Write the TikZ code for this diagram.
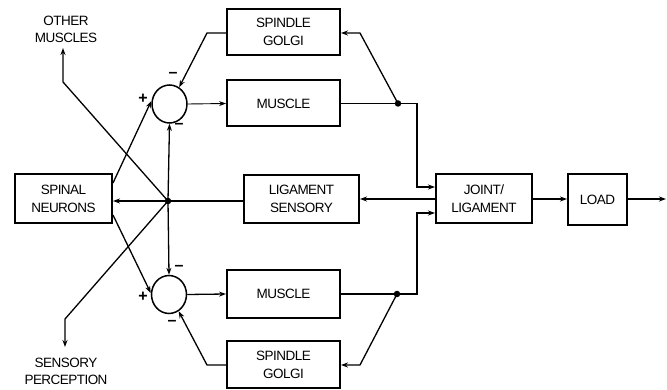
\documentclass[tikz,border=0pt]{standalone}
\usepackage{fontspec}
\setmainfont{Liberation Sans}[LetterSpace=-4]
\usetikzlibrary{arrows.meta,shapes.geometric}
\begin{document}
\begin{tikzpicture}[x=1pt,y=-1pt,
  blk/.style={draw,line width=2pt,inner sep=0pt,align=center,font=\fontsize{13.5}{18}\selectfont},
  lbl/.style={align=center,font=\fontsize{13.5}{17}\selectfont,inner sep=0pt},
  sum/.style={draw,line width=1.5pt,ellipse,minimum width=35pt,minimum height=38pt,inner sep=0pt},
  con/.style={line width=1.3pt,-{Stealth[length=7pt,width=5pt]}},
  ln/.style={line width=1.3pt},
  sg/.style={font=\fontsize{16}{16}\selectfont\bfseries,inner sep=0pt},
  dot/.style={circle,fill,inner sep=0pt,minimum size=6.5pt}]
\useasboundingbox (0,0) rectangle (667,390);
% blocks
\node[blk,minimum width=113pt,minimum height=46pt] (sgt) at (283.5,32) {SPINDLE\\GOLGI};
\node[blk,minimum width=113pt,minimum height=46pt] (mt) at (283.5,103.5) {MUSCLE};
\node[blk,minimum width=97pt,minimum height=49pt] (sn) at (63.5,198.5) {SPINAL\\NEURONS};
\node[blk,minimum width=115pt,minimum height=48pt] (ls) at (301.5,199) {LIGAMENT\\SENSORY};
\node[blk,minimum width=96pt,minimum height=49pt] (jl) at (484,198.5) {JOINT/\\LIGAMENT};
\node[blk,minimum width=59pt,minimum height=51pt] (ld) at (597.5,199.5) {LOAD};
\node[blk,minimum width=113pt,minimum height=48pt] (mb) at (283.5,294) {MUSCLE};
\node[blk,minimum width=113pt,minimum height=47pt] (sgb) at (283.5,364.5) {SPINDLE\\GOLGI};
% summing junctions
\node[sum] (ct) at (169.5,104) {};
\node[sum] (cb) at (169,294.5) {};
% dots
\node[dot] (d0) at (168,201) {};
\node[dot] (dt) at (398,103.5) {};
\node[dot] (db) at (397,294) {};
% labels
\node[lbl] (om) at (66,29) {OTHER\\MUSCLES};
\node[lbl] (sp) at (66,371) {SENSORY\\PERCEPTION};
\coordinate (omA) at (63,48);
\coordinate (spA) at (65,347);
\coordinate (out) at (666,199);
% connectors top
\draw[con] (sgt.west |- 0,33) -- (207,33) -- (ct.60);
\draw[con,line width=0.9pt] (ct.east) -- (mt.west);
\draw[ln] (mt.east) -- (dt.center);
\draw[con] (dt.center) -- (417,103.5) -- (417,187) -- (jl.west |- 0,187);
\draw[con] (dt.center) -- (360,33) -- (sgt.east |- 0,33);
% centre
\draw[con] (jl.west |- 0,199) -- (ls.east |- 0,199);
\draw[ln] (ls.west |- 0,201) -- (d0.center);
\draw[con] (d0.center) -- (sn.east |- 0,201);
\draw[con] (d0.center) -- (ct.south);
\draw[con] (d0.center) -- (cb.north);
\draw[con] (sn.east |- 0,183) -- (ct.west |- 0,101);
\draw[con] (sn.east |- 0,215) -- (cb.west |- 0,293);
\draw[con] (d0.center) -- (63,82) -- (omA);
\draw[con] (d0.center) -- (65,319) -- (spA);
% bottom
\draw[con] (cb.east) -- (mb.west);
\draw[ln] (mb.east) -- (db.center);
\draw[con] (db.center) -- (417,294) -- (417,213) -- (jl.west |- 0,213);
\draw[con] (db.center) -- (360,365) -- (sgb.east |- 0,365);
\draw[con] (sgb.west |- 0,365) -- (207,365) -- (cb.-60);
% load
\draw[con] (jl.east |- 0,199) -- (ld.west |- 0,199);
\draw[con] (ld.east |- 0,199) -- (out);
% signs
\node[sg] (s1) at (173,75) {–};
\node[sg] (s2) at (143,99) {+};
\node[sg] (s3) at (179,126) {–};
\node[sg] (s4) at (179,268) {–};
\node[sg] (s5) at (143,297) {+};
\node[sg] (s6) at (172,323) {–};
\end{tikzpicture}
\end{document}
